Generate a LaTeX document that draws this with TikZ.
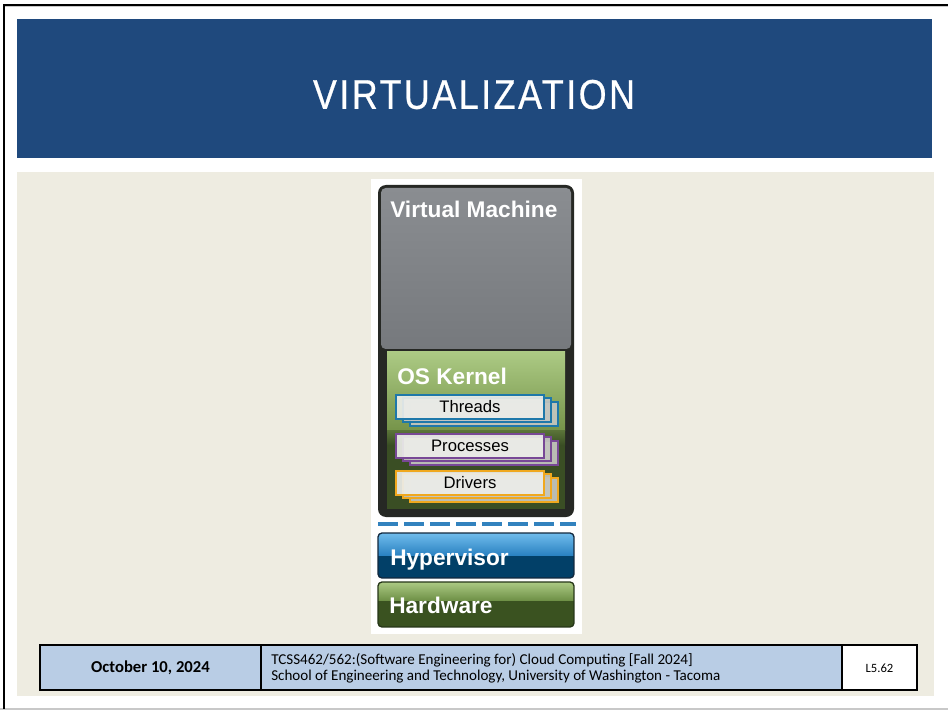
\documentclass[tikz,border=0pt]{standalone}
\usepackage{graphicx}
\usepackage{fontspec}
\setmainfont{Liberation Sans}
\newfontfamily\calfont{Carlito}
\newfontfamily\titlefont[LetterSpace=7,FakeBold=0.6]{Liberation Sans}
\definecolor{titleblue}{RGB}{31,73,125}
\definecolor{beige}{RGB}{238,236,225}
\definecolor{footblue}{RGB}{185,205,229}
\definecolor{vmframe}{RGB}{38,40,36}
\definecolor{vmtop}{RGB}{138,141,145}
\definecolor{vmbot}{RGB}{118,121,125}
\definecolor{kntop}{RGB}{172,202,132}
\definecolor{knmid}{RGB}{118,148,74}
\definecolor{kndark}{RGB}{58,78,36}
\definecolor{thrblue}{RGB}{30,120,170}
\definecolor{procpurple}{RGB}{120,72,150}
\definecolor{drvorange}{RGB}{240,168,30}
\definecolor{stkfront}{RGB}{236,237,233}
\definecolor{stkback}{RGB}{196,198,192}
\definecolor{dashblue}{RGB}{50,130,190}
\definecolor{hyptop}{RGB}{112,188,236}
\definecolor{hypmid}{RGB}{40,128,192}
\definecolor{hypdark}{RGB}{2,64,104}
\definecolor{hypedge}{RGB}{18,40,62}
\definecolor{hwtop}{RGB}{172,202,132}
\definecolor{hwmid}{RGB}{108,142,68}
\definecolor{hwdark}{RGB}{58,82,32}
\definecolor{hwedge}{RGB}{38,54,24}
\definecolor{grayline}{RGB}{200,200,200}
\newcommand{\stackbox}[4]{%
  \foreach \dx/\dy in {15/8,8/4} {\draw[stkshape, draw=#2, fill=stkback] (395+\dx,#1+\dy) rectangle ++(148,24);}
  \node[stkshape, draw=#2, fill=stkfront, minimum width=111pt, minimum height=18pt, anchor=north west, font=\fontsize{12.5}{14}\selectfont] (#3) at (395,#1) {#4};}
\begin{document}
\begin{tikzpicture}[x=0.75pt,y=-0.75pt,
  stkshape/.style={line width=1.5pt, fill opacity=0.92, text opacity=1, inner sep=0pt},
  biglabel/.style={anchor=base west, inner sep=0pt, text=white, font=\bfseries\fontsize{17}{20}\selectfont}]
\useasboundingbox (0,0) rectangle (948,712);
\fill[white] (0,0) rectangle (948,712);
% outer frame lines
\fill[grayline] (0,707.5) rectangle (948,710);
\fill[grayline] (3,5.5) rectangle (948,7);
\fill[black] (3,3.8) rectangle (948,5.8);
\fill[black] (3,3.8) rectangle (5.3,709);
% title
\fill[titleblue] (17,19) rectangle (932,158);
\node[anchor=south, inner sep=0pt, text=white] (title) at (474,109.5) {\resizebox{241.5pt}{21.75pt}{\titlefont VIRTUALIZATION}};
% content background
\fill[beige] (17,172) rectangle (934,696);
% diagram background
\fill[white] (371,179) rectangle (582,634);
% virtual machine
\fill[vmframe, rounded corners=6pt] (378,185) rectangle (574,517);
\shade[top color=vmtop, bottom color=vmbot, rounded corners=3.5pt] (381,188) rectangle (571,349);
\node[biglabel] (vm) at (390,217.5) {Virtual Machine};
% OS kernel
\shade[top color=kntop, bottom color=knmid] (387,352) rectangle (565,430);
\shade[top color=knmid!55!kndark, bottom color=kndark] (387,430) rectangle (565,445);
\fill[kndark] (387,445) rectangle (565,509);
\node[biglabel] (os) at (397,384) {OS Kernel};
\stackbox{394}{thrblue}{threads}{Threads}
\stackbox{433}{procpurple}{processes}{Processes}
\stackbox{470}{drvorange}{drivers}{Drivers}
% dashed separator
\draw[dashblue, line width=3pt, dash pattern=on 15pt off 4.5pt] (378,524) -- (576,524);
% hypervisor
\begin{scope}
\clip[rounded corners=3pt] (378,533) rectangle (574,578);
\shade[top color=hyptop, bottom color=hypmid] (378,533) rectangle (574,556);
\fill[hypdark] (378,556) rectangle (574,578);
\end{scope}
\draw[hypedge, line width=1pt, rounded corners=3pt] (378,533) rectangle (574,578);
\node[biglabel] (hyp) at (390,565) {Hypervisor};
% hardware
\begin{scope}
\clip[rounded corners=3pt] (378,582) rectangle (574,627);
\shade[top color=hwtop, bottom color=hwmid] (378,582) rectangle (574,601);
\fill[hwdark] (378,601) rectangle (574,627);
\end{scope}
\draw[hwedge, line width=1pt, rounded corners=3pt] (378,582) rectangle (574,627);
\node[biglabel] (hw) at (389,613) {Hardware};
% footer
\draw[black, fill=footblue, line width=0.9pt] (40,645) rectangle (842,690);
\draw[black, line width=0.9pt] (261,645) -- (261,690);
\draw[black, fill=white, line width=0.9pt] (842,645) rectangle (917,690);
\node[inner sep=0pt, font=\calfont\bfseries\fontsize{12.5}{15}\selectfont] (date) at (150.5,668) {October 10, 2024};
\node[anchor=west, inner sep=0pt, align=left, font=\calfont\fontsize{11.3}{12}\selectfont] (course) at (271,668.5) {TCSS462/562:(Software Engineering for) Cloud Computing [Fall 2024]\\School of Engineering and Technology, University of Washington - Tacoma};
\node[inner sep=0pt, font=\calfont\fontsize{9.5}{11}\selectfont] (page) at (879.5,668) {L5.62};
\end{tikzpicture}
\end{document}
